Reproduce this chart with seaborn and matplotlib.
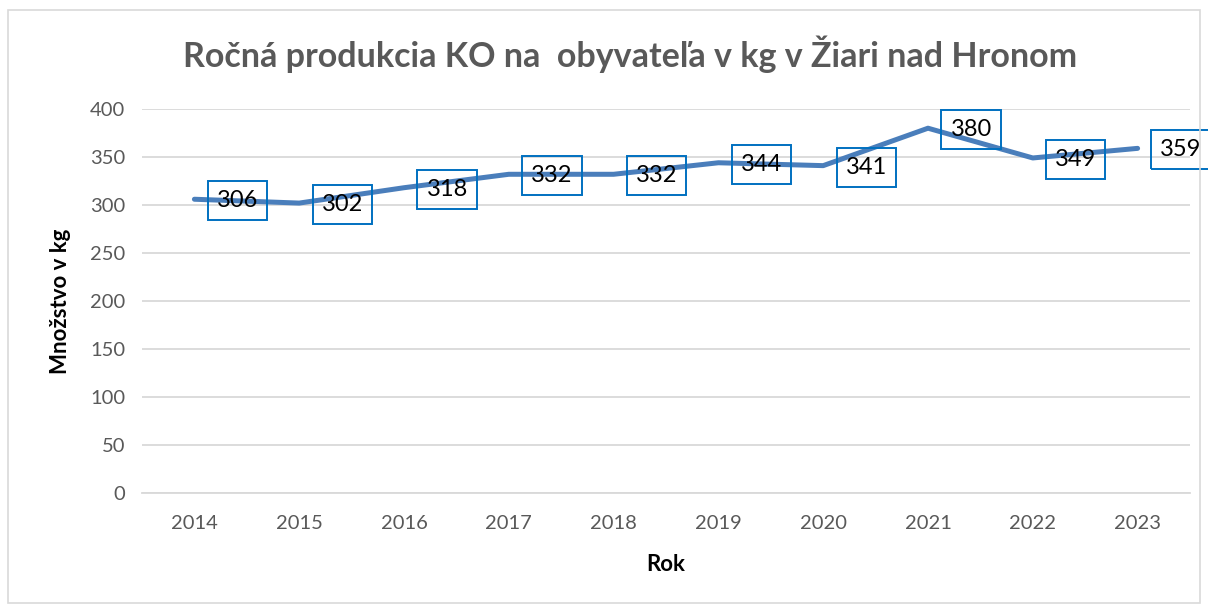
import matplotlib
matplotlib.use("Agg")
import matplotlib.pyplot as plt
import seaborn as sns
import pandas as pd
from matplotlib.patches import Rectangle

years = ["2014", "2015", "2016", "2017", "2018", "2019", "2020", "2021", "2022", "2023"]
values = [306, 302, 318, 332, 332, 344, 341, 380, 349, 359]

title = "Ročná produkcia KO na  obyvateľa v kg v Žiari nad Hronom"
xlabel = "Rok"
ylabel = "Množstvo v kg"

sns.set_style("white")
plt.rcParams["font.family"] = ["Lato", "DejaVu Sans"]

df = pd.DataFrame({"Rok": years, "kg": values})

fig = plt.figure(figsize=(12.08, 6.05), dpi=100)
fig.patches.append(Rectangle((8 / 1208, 2 / 605), 1192 / 1208, 593 / 605, transform=fig.transFigure,
                             fill=False, edgecolor="#D9D9D9", linewidth=1.2))
ax = fig.add_axes([142 / 1208, 112 / 605, 1048 / 1208, 384 / 605])

sns.lineplot(data=df, x="Rok", y="kg", ax=ax, color="#4A7EBB", linewidth=3.6, sort=False)

ax.set_ylim(0, 400)
ax.set_xlim(-0.5, len(years) - 0.5)
ax.set_yticks(range(0, 401, 50))
ax.grid(axis="y", color="#D9D9D9", linewidth=1.3)
ax.set_axisbelow(True)
for s in ["left", "right", "top"]:
    ax.spines[s].set_visible(False)
ax.spines["bottom"].set_color("#D9D9D9")
ax.spines["bottom"].set_linewidth(1.3)
ax.set_xticks(range(len(years)))
ax.set_xticklabels(years)
ax.set_xticks([i - 0.5 for i in range(len(years) + 1)], minor=True)
ax.tick_params(axis="x", which="major", length=0, pad=16, labelsize=14.5, labelcolor="#595959")
ax.tick_params(axis="x", which="minor", length=6, width=1.3, color="#D9D9D9")
ax.tick_params(axis="y", length=0, pad=12, labelsize=14.5, labelcolor="#595959")

ax.set_xlabel(xlabel, fontsize=16, fontweight="bold", color="black", labelpad=16)
ax.set_ylabel(ylabel, fontsize=16, fontweight="bold", color="black", labelpad=14)

for i, v in enumerate(values):
    ax.annotate(str(v), (i, v), xytext=(31, -1), textcoords="offset points",
                ha="center", va="center", fontsize=17, color="black",
                bbox=dict(boxstyle="square,pad=0.38", fc="none", ec="#0070C0", lw=1.4),
                zorder=5)

fig.text(630 / 1208, 1 - 54 / 605, title, ha="center", va="center",
         fontsize=24.5, fontweight="bold", color="#595959")

fig.savefig("out.png", dpi=100)
